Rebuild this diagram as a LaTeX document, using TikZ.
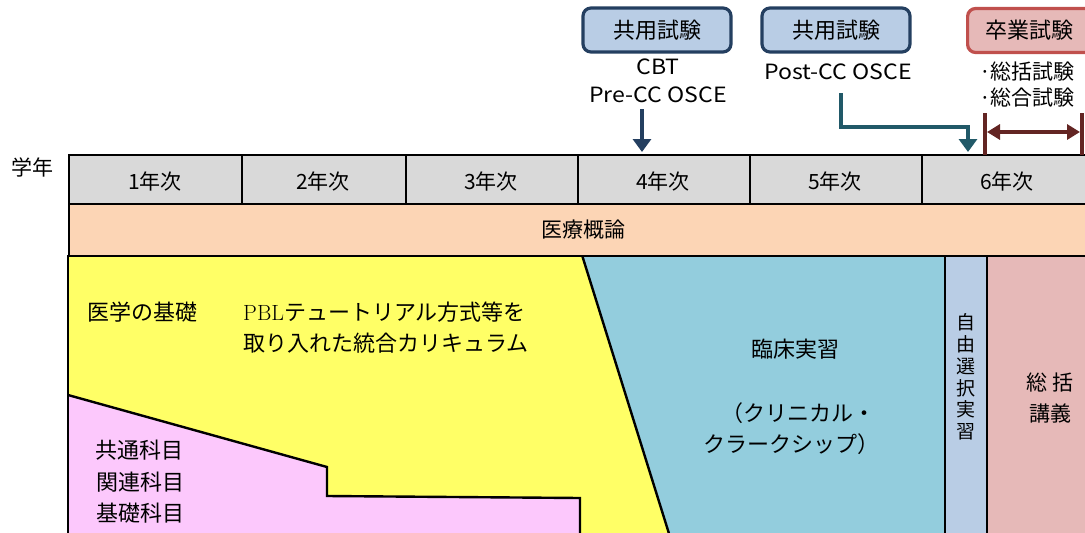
\documentclass[tikz,border=0pt]{standalone}
\usepackage{fontspec}
\newfontfamily\jp{Noto Sans CJK JP}
\newfontfamily\jpw{Noto Sans CJK JP}[FakeStretch=1.1]
\usetikzlibrary{arrows.meta}
\definecolor{cellgray}{HTML}{D9D9D9}
\definecolor{bandorange}{HTML}{FCD5B5}
\definecolor{basicyellow}{HTML}{FFFF66}
\definecolor{genpink}{HTML}{FCC8FC}
\definecolor{clinblue}{HTML}{93CDDD}
\definecolor{freeblue}{HTML}{B9CDE5}
\definecolor{lectred}{HTML}{E6B9B8}
\definecolor{navy}{HTML}{243F60}
\definecolor{tealc}{HTML}{215968}
\definecolor{redb}{HTML}{C0504D}
\definecolor{darkred}{HTML}{632523}
\tikzset{
  frame/.style={draw=black, line width=2.4pt},
  lbl/.style={font=\jp\fontsize{21}{24}\selectfont, inner sep=0pt},
  big/.style={font=\jp\fontsize{22}{24}\selectfont, inner sep=0pt},
  latin/.style={font=\jpw\fontsize{21}{24}\selectfont, inner sep=0pt},
  exambox/.style={rounded corners=8pt, line width=3.2pt, minimum height=44pt, font=\jp\fontsize{22}{24}\selectfont},
  bluebox/.style={exambox, draw=navy, fill=freeblue},
  redbox/.style={exambox, draw=redb, fill=lectred},
  cell/.style={frame, fill=cellgray, anchor=north west, minimum height=49pt, inner sep=0pt},
}
\begin{document}
\begin{tikzpicture}[x=1pt,y=-1pt]
\useasboundingbox (0,0) rectangle (1085,533);
% fills
\fill[basicyellow] (68,255) -- (582,255) -- (671,540) -- (68,540) -- cycle;
\fill[clinblue] (582,255) -- (945,255) -- (945,540) -- (671,540) -- cycle;
\fill[genpink] (68,395) -- (327,467) -- (327,496) -- (580,498) -- (580,540) -- (68,540) -- cycle;
\fill[freeblue] (945,255) rectangle (987,540);
\fill[lectred] (987,255) rectangle (1095,540);
% region borders
\draw[frame] (68,255) -- (68,540);
\draw[frame] (582,255) -- (671,540);
\draw[frame] (68,395) -- (327,467) -- (327,496) -- (580,498) -- (580,540);
\draw[frame] (945,255) -- (945,540);
\draw[frame] (987,255) -- (987,540);
% band
\node[frame, fill=bandorange, anchor=north west, minimum width=1030pt, minimum height=52pt, inner sep=0pt] (band) at (68,203) {};
\node[lbl] at (583,230) {医療概論};
% year row
\node[cell, minimum width=173pt] (y1) at (68,154) {};
\node[cell, minimum width=164pt] (y2) at (241,154) {};
\node[cell, minimum width=172pt] (y3) at (405,154) {};
\node[cell, minimum width=172pt] (y4) at (577,154) {};
\node[cell, minimum width=172pt] (y5) at (749,154) {};
\node[cell, minimum width=180pt] (y6) at (921,154) {};
\node[lbl] at (155,181) {1年次};
\node[lbl] at (323,181) {2年次};
\node[lbl] at (491,181) {3年次};
\node[lbl] at (663,181) {4年次};
\node[lbl] at (835,181) {5年次};
\node[lbl] at (1007,181) {6年次};
\node[lbl] at (33,167) {学年};
% texts in regions
\node[big] at (142,312) {医学の基礎};
\node[big, anchor=west] at (243,312) {{\rmfamily PBL}テュートリアル方式等を};
\node[big, anchor=west] at (243,343) {取り入れた統合カリキュラム};
\node[big] at (139,450) {共通科目};
\node[big] at (140,482) {関連科目};
\node[big] at (140,513) {基礎科目};
\node[big] at (795,349) {臨床実習};
\node[big] at (798,413) {（クリニカル・};
\node[big] at (791,444) {クラークシップ）};
\node[lbl, align=center, font=\jp\fontsize{19}{21.7}\selectfont] at (966,377) {自\\由\\選\\択\\実\\習};
\node[lbl] at (1050,383) {総 括};
\node[lbl] at (1050,413) {講義};
% exam boxes
\node[bluebox, minimum width=148pt] (ex1) at (657,30) {共用試験};
\node[bluebox, minimum width=148pt] (ex2) at (836,30) {共用試験};
\node[redbox, minimum width=150pt, anchor=west] (ex3) at (966,30.5) {\hspace*{-26pt}卒業試験};
\node[latin] (cbt) at (658,67) {CBT};
\node[latin] (pre) at (658,95) {Pre-CC OSCE};
\node[latin] (post) at (838,72) {Post-CC OSCE};
\node[lbl] (sk1) at (1027,72) {·総括試験};
\node[lbl] (sk2) at (1027,98) {·総合試験};
% arrows
\coordinate (a1s) at (642,109);
\coordinate (a1e) at (642,152);
\draw[navy, line width=4.5pt, -{Triangle[width=18pt,length=13pt]}] (a1s) -- (a1e);
\coordinate (a2s) at (841,93);
\coordinate (a2m) at (968,127);
\coordinate (a2e) at (968,152);
\draw[tealc, line width=4.5pt, -{Triangle[width=18pt,length=13pt]}] (a2s) |- (a2m) -- (a2e);
\coordinate (bl) at (985,132);
\coordinate (br) at (1082,132);
\draw[darkred, line width=4pt] (985,113) -- (985,155);
\draw[darkred, line width=4pt] (1082,113) -- (1082,155);
\draw[darkred, line width=4pt, {Triangle[width=15pt,length=13pt]}-{Triangle[width=15pt,length=13pt]}] ([xshift=2pt]bl) -- ([xshift=-2pt]br);
\end{tikzpicture}
\end{document}
